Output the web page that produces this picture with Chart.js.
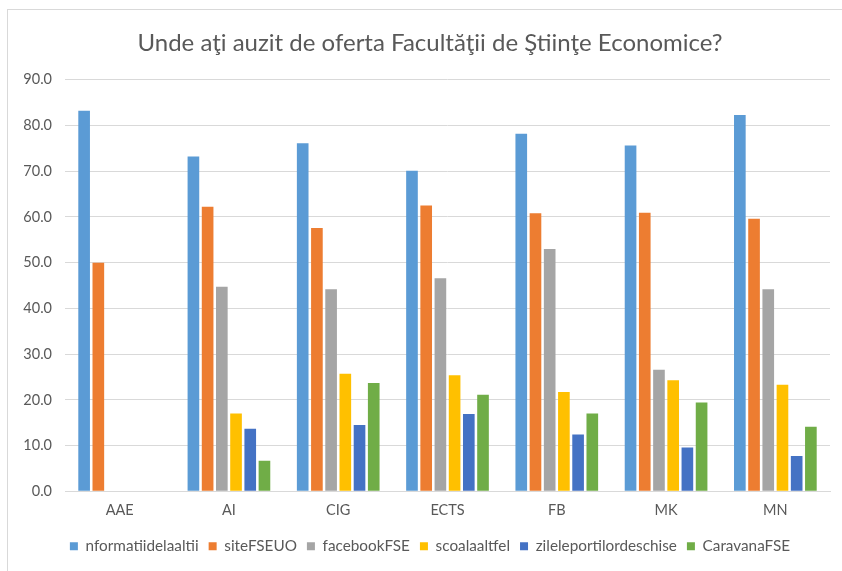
<!DOCTYPE html>
<html>
<head>
<meta charset="utf-8">
<script src="https://cdn.jsdelivr.net/npm/chart.js@4.4.1/dist/chart.umd.min.js"></script>
<style>
  html, body { margin: 0; padding: 0; background: #ffffff; }
  #wrap { position: relative; width: 842px; height: 571px; overflow: hidden; }
  #frame { position: absolute; left: 7px; top: 9px; width: 900px; height: 700px; border: 1px solid #d9d9d9; box-sizing: border-box; }
  canvas { position: absolute; left: 0; top: 0; }
</style>
</head>
<body>
<div id="wrap">
  <div id="frame"></div>
  <canvas id="c" width="842" height="571"></canvas>
</div>
<script>
const categories = ["AAE", "AI", "CIG", "ECTS", "FB", "MK", "MN"];
const seriesNames = ["nformatiidelaaltii", "siteFSEUO", "facebookFSE", "scoalaaltfel", "zileleportilordeschise", "CaravanaFSE"];
const nformatiidelaaltii = [83.2, 73.2, 76.1, 70.1, 78.2, 75.6, 82.3];
const siteFSEUO = [50.0, 62.2, 57.6, 62.5, 60.8, 60.9, 59.6];
const facebookFSE = [null, 44.7, 44.2, 46.6, 53.0, 26.6, 44.2];
const scoalaaltfel = [null, 17.0, 25.7, 25.4, 21.7, 24.3, 23.3];
const zileleportilordeschise = [null, 13.7, 14.5, 16.9, 12.4, 9.6, 7.7];
const CaravanaFSE = [null, 6.7, 23.7, 21.1, 17.0, 19.4, 14.1];
const yTicks = [0, 10, 20, 30, 40, 50, 60, 70, 80, 90];
const titleText = "Unde aţi auzit de oferta Facultăţii de Ştiinţe Economice?";

const colors = ["#5B9BD5", "#ED7D31", "#A5A5A5", "#FFC000", "#4472C4", "#70AD47"];
const values = [nformatiidelaaltii, siteFSEUO, facebookFSE, scoalaaltfel, zileleportilordeschise, CaravanaFSE];

const FONT = "Lato, 'Liberation Sans', sans-serif";
const TXT = "#595959";

const legendFitFix = {
  id: "legendFitFix",
  afterInit(chart) {
    const lg = chart.legend;
    if (!lg) return;
    const orig = lg.fit.bind(lg);
    lg.fit = function () { orig(); this.height += 7; };
  }
};

new Chart(document.getElementById("c"), {
  type: "bar",
  data: {
    labels: categories,
    datasets: seriesNames.map((n, i) => ({
      label: n,
      data: values[i],
      backgroundColor: colors[i],
      borderWidth: 0,
      categoryPercentage: 0.78,
      barPercentage: 0.82
    }))
  },
  options: {
    responsive: false,
    animation: false,
    devicePixelRatio: 1,
    layout: { padding: { top: 9, left: 30, right: 12, bottom: 0 } },
    plugins: {
      title: {
        display: true,
        text: titleText,
        color: TXT,
        font: { family: FONT, size: 24, weight: "normal" },
        padding: { top: 19.5, bottom: 22.4 }
      },
      legend: {
        position: "bottom",
        labels: {
          color: TXT,
          font: { family: FONT, size: 15.3 },
          boxWidth: 8,
          boxHeight: 8,
          padding: 10
        }
      },
      tooltip: { enabled: false }
    },
    scales: {
      x: {
        grid: { display: false, drawTicks: false },
        border: { display: true, color: "#d9d9d9", width: 1 },
        ticks: { color: TXT, font: { family: FONT, size: 14.5 }, padding: 10 }
      },
      y: {
        min: 0,
        max: 90,
        afterFit: (s) => { s.width = 35; s._computeLabelArea = () => undefined; },
        afterBuildTicks: (s) => { s.ticks = yTicks.map(v => ({ value: v })); },
        grid: { color: "#d9d9d9", lineWidth: 1, drawTicks: false },
        border: { display: false },
        ticks: {
          color: TXT,
          font: { family: FONT, size: 14.5 },
          padding: 13,
          callback: (v) => Number(v).toFixed(1)
        }
      }
    }
  },
  plugins: [legendFitFix]
});
</script>
</body>
</html>
